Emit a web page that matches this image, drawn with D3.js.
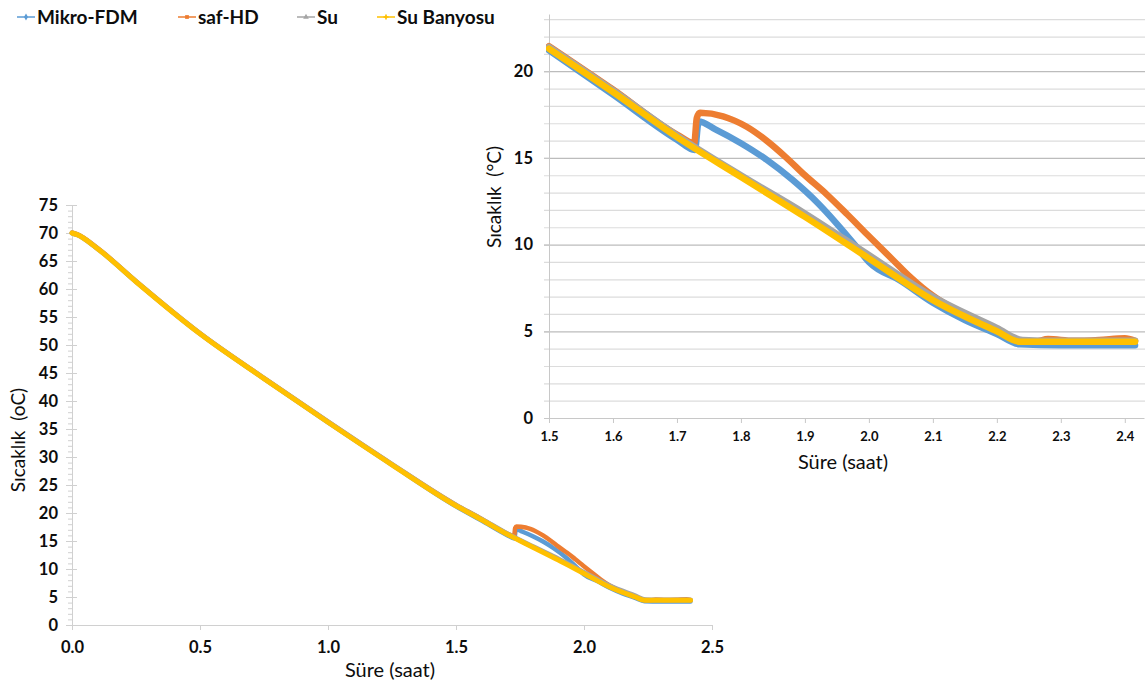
<!DOCTYPE html>
<html><head><meta charset="utf-8">
<script src="https://cdn.jsdelivr.net/npm/d3@7"></script>
<style>
body{margin:0;background:#fff}
svg{display:block}
text{font-family:Lato,"Open Sans",sans-serif;fill:#0d0d0d;white-space:pre}
</style>
</head><body>
<svg id="c" width="1145" height="682"></svg>
<script>
// ---------- DATA ----------
const seriesNames = ["Mikro-FDM", "saf-HD", "Su", "Su Banyosu"];
const seriesColors = ["#5B9BD5", "#ED7D31", "#A5A5A5", "#FFC000"];

const mikroT = [0, 0.02, 0.1, 0.25, 0.5, 0.75, 1.0, 1.25, 1.5, 1.6, 1.7, 1.728, 1.734, 1.76, 1.8, 1.84, 1.88, 1.92, 1.95, 1.98, 2.0, 2.05, 2.1, 2.15, 2.2, 2.236, 2.3, 2.35, 2.416];
const mikroV = [70, 69.7, 67.2, 61.3, 52.0, 44.0, 36.2, 28.6, 21.2, 18.65, 16.05, 15.45, 17.1, 16.65, 15.85, 14.9, 13.75, 12.4, 11.2, 9.9, 9.0, 7.9, 6.65, 5.65, 4.85, 4.25, 4.2, 4.2, 4.2];

const safT = [0, 0.02, 0.1, 0.25, 0.5, 0.75, 1.0, 1.25, 1.5, 1.6, 1.7, 1.727, 1.731, 1.736, 1.772, 1.79, 1.809, 1.84, 1.87, 1.9, 1.934, 1.966, 1.997, 2.038, 2.064, 2.1, 2.13, 2.17, 2.2, 2.236, 2.26, 2.28, 2.32, 2.36, 2.4, 2.416];
const safV = [70.1, 69.8, 67.3, 61.4, 52.1, 44.1, 36.3, 28.7, 21.45, 18.95, 16.35, 15.85, 17.3, 17.6, 17.4, 17.15, 16.8, 16.0, 15.05, 14.0, 12.9, 11.75, 10.6, 9.1, 8.15, 7.05, 6.35, 5.6, 5.1, 4.45, 4.4, 4.55, 4.45, 4.5, 4.6, 4.45];

const suT = [0, 0.02, 0.1, 0.25, 0.5, 0.75, 1.0, 1.25, 1.5, 1.6, 1.7, 1.8, 1.9, 2.0, 2.1, 2.2, 2.24, 2.3, 2.35, 2.416];
const suV = [70, 69.7, 67.2, 61.35, 52.05, 44.05, 36.3, 28.7, 21.4, 18.9, 16.3, 14.0, 11.8, 9.4, 7.0, 5.2, 4.5, 4.45, 4.45, 4.45];

const banyoT = [0, 0.02, 0.1, 0.25, 0.5, 0.75, 1.0, 1.25, 1.5, 1.6, 1.7, 1.8, 1.9, 2.0, 2.1, 2.2, 2.236, 2.3, 2.35, 2.416];
const banyoV = [70, 69.7, 67.2, 61.3, 52.0, 44.0, 36.2, 28.6, 21.3, 18.8, 16.2, 13.9, 11.6, 9.2, 6.8, 5.0, 4.4, 4.4, 4.4, 4.4];

const leftXTicks = [0, 0.5, 1.0, 1.5, 2.0, 2.5];
const leftYTicks = [0, 5, 10, 15, 20, 25, 30, 35, 40, 45, 50, 55, 60, 65, 70, 75];
const rightXTicks = [1.5, 1.6, 1.7, 1.8, 1.9, 2.0, 2.1, 2.2, 2.3, 2.4];
const rightYTicks = [0, 5, 10, 15, 20];

const xTitle = "Süre (saat)";
const leftYTitle = "Sıcaklık  (oC)";
const rightYTitle = "Sıcaklık  (°C)";

// ---------- BUILD ----------
const seriesT = [mikroT, safT, suT, banyoT];
const seriesV = [mikroV, safV, suV, banyoV];
const series = seriesNames.map((n, i) => ({
  name: n, color: seriesColors[i],
  pts: seriesT[i].map((t, j) => [t, seriesV[i][j]])
}));

const svg = d3.select("#c");
svg.append("rect").attr("width", 1145).attr("height", 682).attr("fill", "#fff");

const boldTicks = (size) => g => g.selectAll("text")
  .attr("font-size", size).attr("font-weight", 700)
  .attr("font-family", "Lato").attr("fill", "#0d0d0d");

// ===== LEFT CHART =====
const xL = d3.scaleLinear([0, 2.5], [72, 712]);
const yL = d3.scaleLinear([0, 75], [625, 205]);
const gL = svg.append("g");

gL.append("g").attr("transform", "translate(72,0)")
  .call(d3.axisLeft(yL).tickValues(d3.range(0, 76, 1)).tickSize(4).tickFormat(""))
  .call(g => g.select(".domain").remove())
  .call(g => g.selectAll("line").attr("stroke", "#d0d0d0"));
gL.append("g").attr("transform", "translate(72,0)")
  .call(d3.axisLeft(yL).tickValues(leftYTicks).tickSizeInner(6).tickSizeOuter(0).tickPadding(8))
  .call(g => g.select(".domain").attr("stroke", "#d0d0d0"))
  .call(g => g.selectAll(".tick line").attr("stroke", "#d0d0d0").attr("x2", 5).attr("x1", -6))
  .call(boldTicks(16.5));
gL.append("g").attr("transform", "translate(0,625)")
  .call(d3.axisBottom(xL).tickValues(leftXTicks).tickFormat(d3.format(".1f")).tickSizeInner(5).tickSizeOuter(0).tickPadding(11))
  .call(g => g.select(".domain").attr("stroke", "#d0d0d0"))
  .call(g => g.selectAll(".tick line").attr("stroke", "#d0d0d0"))
  .call(boldTicks(16.5));

const lineL = d3.line().x(d => xL(d[0])).y(d => yL(d[1])).curve(d3.curveMonotoneX);
series.forEach((s, i) => {
  gL.append("path").datum(s.pts).attr("d", lineL)
    .attr("fill", "none").attr("stroke", s.color).attr("stroke-width", i < 2 ? 4.5 : 5)
    .attr("stroke-linejoin", "round").attr("stroke-linecap", "round");
});

gL.append("text").attr("x", 390).attr("y", 677).attr("text-anchor", "middle")
  .attr("font-size", 20).text(xTitle);
gL.append("text").attr("transform", "translate(25,440) rotate(-90)").attr("text-anchor", "middle")
  .attr("font-size", 19).text(leftYTitle);

// ===== RIGHT CHART =====
const xR = d3.scaleLinear([1.5, 2.43], [549, 1144]);
const yR = d3.scaleLinear([0, 23.3], [418, 14]);
const gR = svg.append("g");

gR.append("g").attr("transform", "translate(544,0)")
  .call(d3.axisRight(yR).tickValues(d3.range(1, 24, 1)).tickSize(601).tickFormat(""))
  .call(g => g.select(".domain").remove())
  .call(g => g.selectAll("line").attr("stroke", d => d % 5 === 0 ? "#bcbcbc" : "#dcdcdc").attr("stroke-width", 1.2));

gR.append("g").attr("transform", "translate(549,0)")
  .call(d3.axisLeft(yR).tickValues(rightYTicks).tickSizeInner(5).tickSizeOuter(0).tickPadding(11))
  .call(g => g.select(".domain").attr("stroke", "#c8c8c8"))
  .call(g => g.selectAll(".tick line").attr("stroke", "#c8c8c8"))
  .call(boldTicks(16.5));
gR.append("g").attr("transform", "translate(0,418)")
  .call(d3.axisBottom(xR).tickValues(rightXTicks).tickFormat(d3.format(".1f")).tickSizeInner(5).tickSizeOuter(0).tickPadding(9))
  .call(g => g.select(".domain").attr("stroke", "#c8c8c8"))
  .call(g => g.selectAll(".tick line").attr("stroke", "#c8c8c8"))
  .call(boldTicks(13));

svg.append("clipPath").attr("id", "clipR").append("rect")
  .attr("x", 546).attr("y", 0).attr("width", 600).attr("height", 420);
const lineR = d3.line().x(d => xR(d[0])).y(d => yR(d[1])).curve(d3.curveMonotoneX);
series.forEach(s => {
  gR.append("path").datum(s.pts.filter(d => d[0] >= 1.5)).attr("d", lineR)
    .attr("clip-path", "url(#clipR)")
    .attr("fill", "none").attr("stroke", s.color).attr("stroke-width", 6.5)
    .attr("stroke-linejoin", "round").attr("stroke-linecap", "round");
});

gR.append("text").attr("x", 843).attr("y", 469).attr("text-anchor", "middle")
  .attr("font-size", 20).text(xTitle);
gR.append("text").attr("transform", "translate(501,197) rotate(-90)").attr("text-anchor", "middle")
  .attr("font-size", 19).text(rightYTitle);

// ===== LEGEND =====
const legendX = [17, 178, 297, 377];
const symbols = [d3.symbolDiamond, d3.symbolSquare, d3.symbolTriangle, d3.symbolCross];
const lg = svg.append("g");
series.forEach((s, i) => {
  const g = lg.append("g").attr("transform", `translate(${legendX[i]},17)`);
  g.append("line").attr("x1", 0).attr("x2", 18).attr("y1", 0).attr("y2", 0)
    .attr("stroke", s.color).attr("stroke-width", 1.5);
  g.append("path").attr("transform", "translate(9,0)")
    .attr("d", d3.symbol().type(symbols[i]).size(14)).attr("fill", s.color);
  g.append("text").attr("x", 20).attr("y", 0).attr("dy", "0.35em")
    .attr("font-size", 19).attr("font-weight", 700).text(s.name);
});
</script>
</body></html>
